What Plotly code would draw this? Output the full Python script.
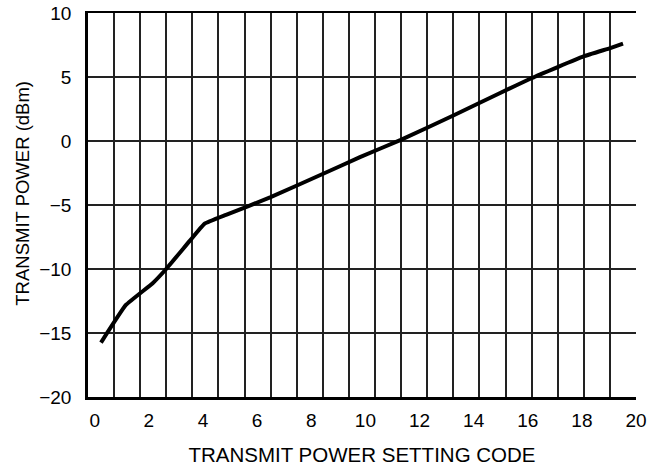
import plotly.graph_objects as go

# Curve
setting_code = [0.23, 1.15, 2.14, 2.63, 3.51, 4.05, 4.85, 6.50, 8.44, 9.80,
                11.31, 13.25, 14.98, 16.15, 18.06, 19.05, 19.52]
power_dbm = [-15.75, -12.81, -11.11, -10.02, -7.8, -6.47, -5.77, -4.39, -2.56, -1.26,
             0.09, 1.99, 3.75, 4.92, 6.61, 7.26, 7.60]

x_ticks = list(range(0, 21, 2))
y_ticks = list(range(-20, 11, 5))

FONT = "Liberation Sans, Arial, Helvetica, sans-serif"
GRID = "#222222"

fig = go.Figure()
fig.add_trace(go.Scatter(x=setting_code, y=power_dbm, mode="lines",
                         line=dict(color="black", width=4, shape="spline", smoothing=0.3),
                         hoverinfo="skip", showlegend=False))
# empty trace to anchor the grid axis
fig.add_trace(go.Scatter(x=[], y=[], xaxis="x2", yaxis="y", showlegend=False))

fig.update_layout(
    width=664, height=466,
    margin=dict(l=88, r=28, t=13, b=69),
    paper_bgcolor="white", plot_bgcolor="white",
    font=dict(family=FONT, color="black", size=19),
    xaxis=dict(range=[-0.25, 20], tickvals=x_ticks, showgrid=False, zeroline=False,
               automargin=False,
               showline=True, linecolor="black", linewidth=2.5,
               ticks="outside", ticklen=4, tickcolor="rgba(0,0,0,0)",
               tickfont=dict(size=19), ticklabeloverflow="allow",
               title=dict(text="TRANSMIT POWER SETTING CODE", font=dict(size=20.5), standoff=20)),
    xaxis2=dict(overlaying="x", range=[0, 21], dtick=1, showgrid=True, gridcolor=GRID,
                gridwidth=1.5, showticklabels=False, zeroline=False, side="top",
                automargin=False,
                showline=True, linecolor="black", linewidth=1.5, ticks=""),
    yaxis=dict(range=[-20, 10], tickvals=y_ticks, showgrid=True, gridcolor=GRID,
               gridwidth=1.5, zeroline=False, showline=True, linecolor="black",
               linewidth=2.5, mirror=False, automargin=False,
               ticks="outside", ticklen=10, tickcolor="rgba(0,0,0,0)",
               tickfont=dict(size=19), ticklabeloverflow="allow"),
    annotations=[dict(text="TRANSMIT POWER (dBm)", textangle=-90, showarrow=False,
                      xref="paper", yref="paper", x=-0.12, y=0.53,
                      xanchor="center", yanchor="middle",
                      font=dict(size=18.5, family=FONT, color="black"))],
)

fig.write_html(
    "out.html",
    config={"displayModeBar": False},
    post_script="document.body.style.margin='0';document.body.style.overflow='hidden';",
)
